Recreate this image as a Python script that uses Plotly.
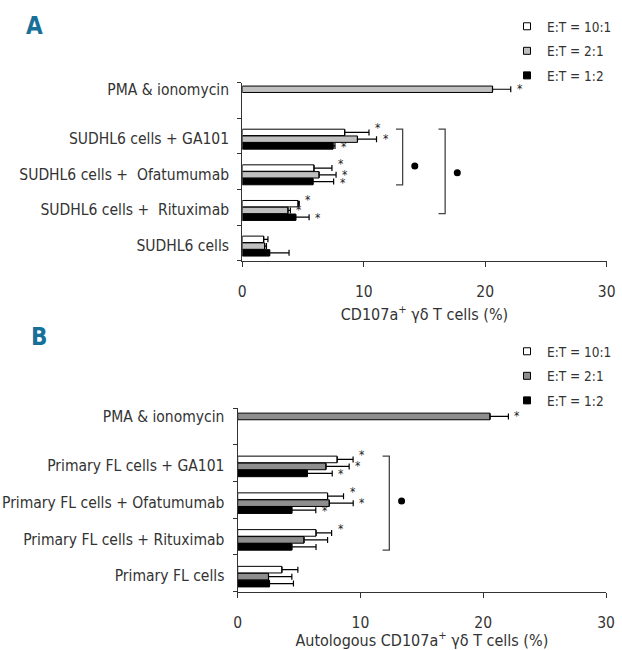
import plotly.graph_objects as go

# ---------------- data ----------------
series_names = ["E:T = 10:1", "E:T = 2:1", "E:T = 1:2"]

cats_A = ["SUDHL6 cells", "SUDHL6 cells +\u00a0 Rituximab", "SUDHL6 cells +\u00a0 Ofatumumab",
          "SUDHL6 cells + GA101", "PMA & ionomycin"]
A_10_1 = [1.76, 4.59, 5.90, 8.43, None]
A_10_1_err = [0.35, 0.10, 1.48, 2.00, None]
A_2_1 = [1.84, 3.76, 6.32, 9.48, 20.6]
A_2_1_err = [0.15, 0.20, 1.40, 1.57, 1.50]
A_1_2 = [2.25, 4.40, 5.82, 7.47, None]
A_1_2_err = [1.60, 1.10, 1.70, 0.16, None]
A_stars = [[0, 1, 1, 1, 0], [0, 1, 1, 1, 1], [0, 1, 1, 1, 0]]

cats_B = ["Primary FL cells", "Primary FL cells + Rituximab", "Primary FL cells + Ofatumumab",
          "Primary FL cells + GA101", "PMA & ionomycin"]
B_10_1 = [3.60, 6.38, 7.32, 8.10, None]
B_10_1_err = [1.30, 1.27, 1.30, 1.30, None]
B_2_1 = [2.51, 5.40, 7.46, 7.19, 20.55]
B_2_1_err = [1.90, 1.92, 1.95, 1.89, 1.50]
B_1_2 = [2.59, 4.41, 4.41, 5.67, None]
B_1_2_err = [1.95, 1.97, 1.95, 2.03, None]
B_stars = [[0, 1, 1, 1, 0], [0, 0, 1, 1, 1], [0, 0, 1, 1, 0]]

# significance brackets: x value, (top category, series), (bottom category, series), dot x, dot y
A_brackets = [dict(x=13.2, top=(3, 0), bot=(2, 2), dot=(14.2, 2.16)),
              dict(x=16.7, top=(3, 0), bot=(1, 1), dot=(17.7, 1.97))]
B_brackets = [dict(x=12.35, top=(3, 0), bot=(1, 2), dot=(13.35, 1.97))]

# ---------------- style ----------------
FONT = "Liberation Sans Narrow, Arial Narrow, DejaVu Sans Condensed, sans-serif"
TXT = "#333333"
W = 0.18
OFFS = [0.01, -0.18, -0.37]
STAR_DY = [4, 0, -1]
PMA_OFF = {"A": 0.22, "B": 0.18}
FILL = {"A": ["#ffffff", "#c0c0c0", "#000000"], "B": ["#ffffff", "#8e8e8e", "#000000"]}

fig = go.Figure()


def panel(key, cats, vals, errs, stars, brackets, xa, ya, legend):
    xref = "x" if xa == "xaxis" else "x2"
    yref = "y" if ya == "yaxis" else "y2"
    idx = list(range(len(cats)))
    annotations = []
    for s in range(3):
        offs = [OFFS[s]] * len(cats)
        if s == 1:
            offs[-1] = PMA_OFF[key]
        fig.add_trace(go.Bar(
            x=vals[s], y=idx, orientation="h", width=W, offset=offs,
            marker=dict(color=FILL[key][s], line=dict(color="#000000", width=1)),
            error_x=dict(type="data", array=errs[s], arrayminus=[0] * len(cats), symmetric=False,
                         color="#000000", thickness=1.2, width=3),
            xaxis=xref, yaxis=yref, showlegend=False, hoverinfo="x+y"))
        # legend proxy
        fig.add_trace(go.Scatter(
            x=[None], y=[None], mode="markers", name=series_names[s],
            marker=dict(symbol="square", size=7, color=FILL[key][s], line=dict(color="#000", width=1)),
            xaxis=xref, yaxis=yref, legend=legend, legendgroup=key + str(s)))
        for i in idx:
            if stars[s][i] and vals[s][i] is not None:
                annotations.append(dict(
                    x=vals[s][i] + (errs[s][i] or 0), y=i + offs[i] + W / 2,
                    xref=xref, yref=yref, text="*", showarrow=False, xshift=9, yshift=STAR_DY[s],
                    font=dict(family=FONT, size=12, color="#222")))
    for b in brackets:
        ti, ts = b["top"]
        bi, bs = b["bot"]
        ytop = ti + OFFS[ts] + W
        ybot = bi + OFFS[bs]
        x0 = b["x"] - 0.55
        fig.add_shape(type="path", xref=xref, yref=yref,
                      path=f"M{x0},{ytop} L{b['x']},{ytop} L{b['x']},{ybot} L{x0},{ybot}",
                      line=dict(color="#444444", width=1.3))
        fig.add_trace(go.Scatter(x=[b["dot"][0]], y=[b["dot"][1]], mode="markers",
                                 marker=dict(color="#000", size=7), xaxis=xref, yaxis=yref,
                                 showlegend=False, hoverinfo="skip"))
    tickvals = [i - 0.07 for i in idx[:-1]] + [idx[-1] + PMA_OFF[key] + W / 2]
    return annotations, tickvals


annA, tvA = panel("A", cats_A, [A_10_1, A_2_1, A_1_2], [A_10_1_err, A_2_1_err, A_1_2_err],
                  A_stars, A_brackets, "xaxis", "yaxis", "legend")
annB, tvB = panel("B", cats_B, [B_10_1, B_2_1, B_1_2], [B_10_1_err, B_2_1_err, B_1_2_err],
                  B_stars, B_brackets, "xaxis2", "yaxis2", "legend2")

H, Wd = 650, 622


def xdom(l, r):
    return [l / Wd, r / Wd]


def ydom(top, bot):
    return [1 - bot / H, 1 - top / H]


xcommon = dict(range=[0, 30], tickvals=[0, 10, 20, 30], ticks="outside", ticklen=5, tickwidth=1.3,
               tickcolor="#333", showline=True, linecolor="#333", linewidth=1.3, showgrid=False,
               zeroline=False, tickfont=dict(family=FONT, size=15.5, color=TXT), ticklabelstandoff=12,
               automargin=False)
ycommon = dict(range=[-0.5, 4.5], ticks="", showline=True, linecolor="#333", linewidth=1.3,
               showgrid=False, zeroline=False, tickfont=dict(family=FONT, size=15.5, color=TXT),
               ticklabelstandoff=9, automargin=False,
               minor=dict(tickmode="array", tickvals=[-0.5, 0.5, 1.5, 2.5, 3.5, 4.5], ticks="outside",
                          ticklen=4, tickwidth=1.2, tickcolor="#333", showgrid=False))

fig.update_layout(
    width=Wd, height=H, margin=dict(l=0, r=0, t=0, b=0, autoexpand=False),
    paper_bgcolor="white", plot_bgcolor="white", barmode="overlay",
    xaxis=dict(domain=xdom(242.3, 606.7), anchor="y",
               title=dict(text="CD107a<sup>+</sup> γδ T cells (%)", standoff=8,
                          font=dict(family=FONT, size=16, color=TXT)), **xcommon),
    yaxis=dict(domain=ydom(82.5, 260.7), anchor="x", tickvals=tvA, ticktext=cats_A, **ycommon),
    xaxis2=dict(domain=xdom(237.7, 606), anchor="y2",
                title=dict(text="Autologous CD107a<sup>+</sup> γδ T cells (%)", standoff=8,
                           font=dict(family=FONT, size=16, color=TXT)), **xcommon),
    yaxis2=dict(domain=ydom(408, 591.7), anchor="x2", tickvals=tvB, ticktext=cats_B, **ycommon),
    legend=dict(x=507 / Wd, y=1 - 11 / H, xanchor="left", yanchor="top", tracegroupgap=4,
                font=dict(family=FONT, size=13.5, color=TXT), bgcolor="rgba(0,0,0,0)", itemsizing="trace"),
    legend2=dict(x=507 / Wd, y=1 - 336 / H, xanchor="left", yanchor="top", tracegroupgap=4,
                 font=dict(family=FONT, size=13.5, color=TXT), bgcolor="rgba(0,0,0,0)", itemsizing="trace"),
    annotations=annA + annB + [
        dict(text="<b>A</b>", x=34.5 / Wd, y=1 - 26 / H, xref="paper", yref="paper", showarrow=False,
             xanchor="center", yanchor="middle", font=dict(family=FONT, size=24, color="#17709a")),
        dict(text="<b>B</b>", x=38.5 / Wd, y=1 - 337 / H, xref="paper", yref="paper", showarrow=False,
             xanchor="center", yanchor="middle", font=dict(family=FONT, size=24, color="#17709a")),
    ],
)

fig.write_html("out.html", config={"displayModeBar": False},
               post_script="document.body.style.margin='0px';")
